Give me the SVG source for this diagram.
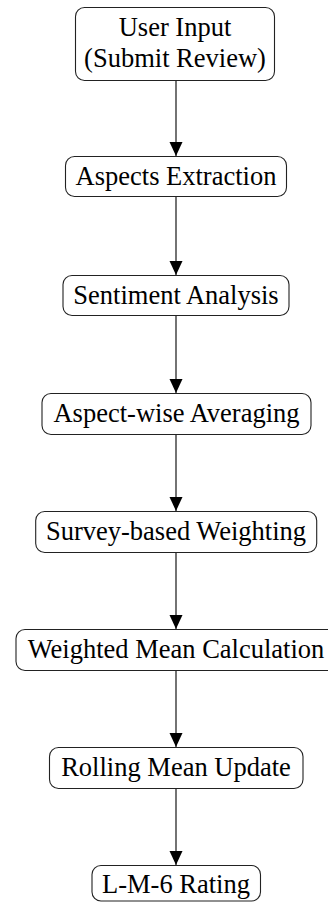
<svg xmlns="http://www.w3.org/2000/svg" width="328" height="902" viewBox="0 0 328 902">
<style>
.box{fill:#fff;stroke:#222;stroke-width:1.1}
.t{font-family:"Liberation Serif","Times New Roman",serif;font-size:26.5px;fill:#000;text-anchor:middle}
.c{stroke:#000;stroke-width:1.1;fill:none;marker-end:url(#ah)}
</style>
<defs>
<marker id="ah" markerUnits="userSpaceOnUse" markerWidth="14" markerHeight="14" viewBox="0 0 14 14" refX="14" refY="7" orient="auto">
<path d="M0,0.5 L14,7 L0,13.5 Z" fill="#000"/>
</marker>
</defs>
<rect width="328" height="902" fill="#fff"/>
<g id="connectors">
<line class="c" x1="176" y1="81" x2="176" y2="156"/>
<line class="c" x1="176" y1="197" x2="176" y2="275"/>
<line class="c" x1="176" y1="316" x2="176" y2="393"/>
<line class="c" x1="176" y1="435" x2="176" y2="511"/>
<line class="c" x1="176" y1="553" x2="176" y2="629"/>
<line class="c" x1="176" y1="671" x2="176" y2="747"/>
<line class="c" x1="176" y1="789" x2="176" y2="865"/>
</g>
<g id="n1"><rect class="box" x="75.5" y="7.5" width="199" height="73" rx="9"/>
<text class="t" x="175" y="36">User Input</text>
<text class="t" x="175" y="67">(Submit Review)</text></g>
<g id="n2"><rect class="box" x="65.5" y="156.5" width="221" height="40" rx="9"/>
<text class="t" x="176" y="185">Aspects Extraction</text></g>
<g id="n3"><rect class="box" x="63" y="275.5" width="226" height="40" rx="9"/>
<text class="t" x="176" y="304">Sentiment Analysis</text></g>
<g id="n4"><rect class="box" x="42" y="393.5" width="269" height="41" rx="9"/>
<text class="t" x="176.5" y="422">Aspect-wise Averaging</text></g>
<g id="n5"><rect class="box" x="35.7" y="511.5" width="281" height="41" rx="9"/>
<text class="t" x="176" y="540">Survey-based Weighting</text></g>
<g id="n6"><rect class="box" x="16" y="629.5" width="320" height="41" rx="9"/>
<text class="t" x="176" y="658">Weighted Mean Calculation</text></g>
<g id="n7"><rect class="box" x="49.5" y="747.5" width="253.5" height="41" rx="9"/>
<text class="t" x="176" y="776">Rolling Mean Update</text></g>
<g id="n8"><rect class="box" x="92" y="865.5" width="168.5" height="35.5" rx="9"/>
<text class="t" x="176" y="893">L-M-6 Rating</text></g>
</svg>
